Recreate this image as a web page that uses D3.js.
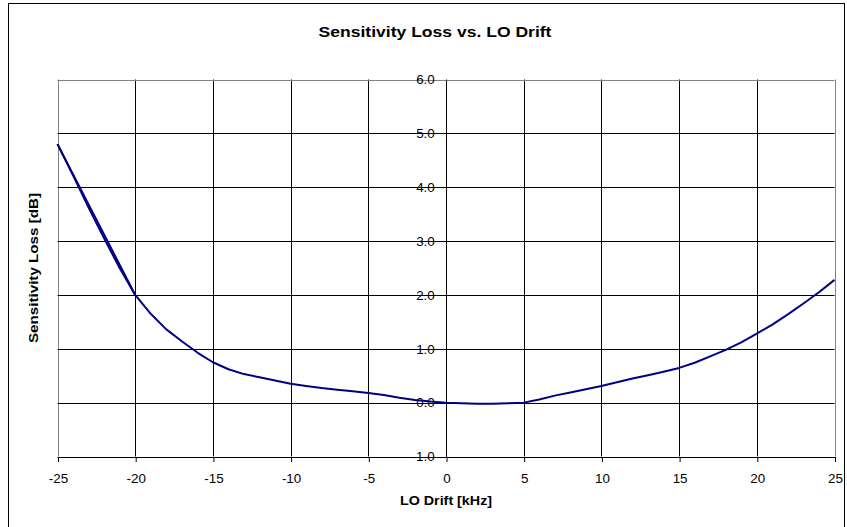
<!DOCTYPE html>
<html>
<head>
<meta charset="utf-8">
<script src="https://cdn.jsdelivr.net/npm/d3@7"></script>
<style>
  html, body { margin: 0; padding: 0; background: #fff; }
  svg { display: block; }
  text { font-family: "Liberation Sans", Arial, sans-serif; fill: #000; }
</style>
</head>
<body>
<svg id="chart" width="847" height="527"></svg>
<script>
// ---- data ----
const driftKHz = [-25,-24,-23,-22,-21,-20,-19,-18,-17,-16,-15,-14,-13,-12,-11,-10,-9,-8,-7,-6,-5,-4,-3,-2,-1,0,1,2,3,4,5,6,7,8,9,10,11,12,13,14,15,16,17,18,19,20,21,22,23,24,25];
const lossDb   = [4.80,4.22,3.62,3.05,2.50,2.00,1.65,1.36,1.14,0.93,0.75,0.62,0.53,0.47,0.41,0.35,0.31,0.27,0.24,0.21,0.18,0.14,0.09,0.05,0.02,0.00,-0.01,-0.02,-0.02,-0.01,0.00,0.06,0.13,0.19,0.25,0.31,0.38,0.45,0.51,0.575,0.645,0.74,0.86,0.98,1.12,1.28,1.45,1.64,1.84,2.05,2.28];
// short return segment visible between -25 and -20
const returnKHz = [-25,-20];
const returnDb  = [4.80,2.00];
const xTicks = [-25,-20,-15,-10,-5,0,5,10,15,20,25];
const yTicks = [-1,0,1,2,3,4,5,6];
const titleText = "Sensitivity Loss vs. LO Drift";
const xTitle = "LO Drift [kHz]";
const yTitle = "Sensitivity Loss [dB]";

// ---- layout ----
const svg = d3.select("#chart");
const pLeft = 57.5, pRight = 834.5, pTop = 79.5, pBottom = 456.5;
const stretch = 1.12;

const x = d3.scaleLinear().domain([-25, 25]).range([pLeft, pRight]);
const y = d3.scaleLinear().domain([-1, 6]).range([pBottom, pTop]);
const hyphen = s => String(s).replace("\u2212", "-");

// outer chart border
svg.append("rect")
  .attr("x", 8.5).attr("y", 3.5)
  .attr("width", 836).attr("height", 540)
  .attr("fill", "#fff").attr("stroke", "#000").attr("stroke-width", 1);

// title
svg.append("text")
  .attr("transform", "translate(435,37) scale(1.17,1)")
  .attr("text-anchor", "middle")
  .attr("font-size", 15).attr("font-weight", "bold")
  .text(titleText);

// gridlines
const grid = svg.append("g");
grid.selectAll("line.v").data(xTicks).enter().append("line")
  .attr("x1", d => Math.round(x(d)) + 0.5).attr("x2", d => Math.round(x(d)) + 0.5)
  .attr("y1", pTop).attr("y2", pBottom)
  .attr("stroke", d => (d === -25 || d === 25) ? "#808080" : "#000")
  .attr("stroke-width", 1);
grid.selectAll("line.h").data(yTicks).enter().append("line")
  .attr("x1", pLeft).attr("x2", pRight)
  .attr("y1", d => Math.round(y(d)) + 0.5).attr("y2", d => Math.round(y(d)) + 0.5)
  .attr("stroke", d => d === 6 ? "#808080" : "#000")
  .attr("stroke-width", 1);

// x axis at bottom
const xAxis = d3.axisBottom(x).tickValues(xTicks).tickSizeInner(5).tickSizeOuter(0).tickPadding(12)
  .tickFormat(d => hyphen(d3.format("d")(d)));
const gx = svg.append("g").attr("transform", `translate(0.5,${Math.round(y(-1))})`).call(xAxis);
gx.select(".domain").attr("stroke", "#000");
gx.selectAll(".tick line").attr("stroke", "#000");
gx.selectAll(".tick text")
  .attr("font-size", 12).attr("font-family", "Liberation Sans, Arial, sans-serif").attr("fill", "#000")
  .attr("transform", `scale(${stretch},1)`);

// y axis at x = 0
const yAxis = d3.axisLeft(y).tickValues(yTicks).tickSize(0).tickPadding(10)
  .tickFormat(d => hyphen(d3.format(".1f")(d)));
const gy = svg.append("g").attr("transform", `translate(${Math.round(x(0))},0.5)`).call(yAxis);
gy.select(".domain").attr("stroke", "#000");
gy.selectAll(".tick text")
  .attr("font-size", 12).attr("font-family", "Liberation Sans, Arial, sans-serif").attr("fill", "#000")
  .attr("transform", `scale(${stretch},1)`);

// series
const line = d3.line().x(d => x(d[0])).y(d => y(d[1]));
svg.append("path")
  .datum(returnKHz.map((v, i) => [v, returnDb[i]]))
  .attr("d", line).attr("fill", "none")
  .attr("stroke", "#000080").attr("stroke-width", 2);
svg.append("path")
  .datum(driftKHz.map((v, i) => [v, lossDb[i]]))
  .attr("d", line).attr("fill", "none")
  .attr("stroke", "#000080").attr("stroke-width", 2).attr("stroke-linejoin", "round");

// axis titles
svg.append("text")
  .attr("transform", "translate(446,504.5) scale(1.1,1)")
  .attr("text-anchor", "middle")
  .attr("font-size", 13).attr("font-weight", "bold")
  .text(xTitle);
svg.append("text")
  .attr("transform", "translate(37.5,268) rotate(-90) scale(1.17,1)")
  .attr("text-anchor", "middle")
  .attr("font-size", 13).attr("font-weight", "bold")
  .text(yTitle);
</script>
</body>
</html>
